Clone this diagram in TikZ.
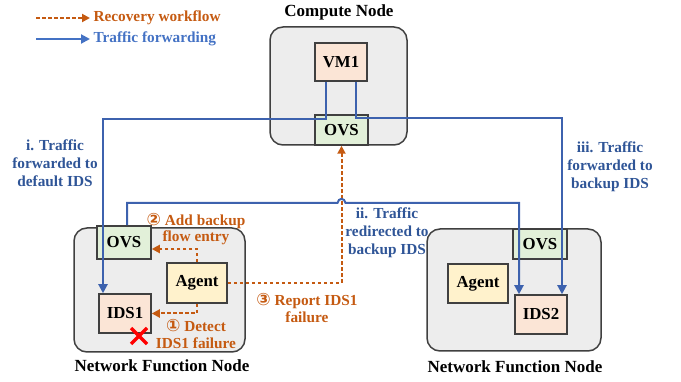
\documentclass[tikz,border=0pt]{standalone}
\usepackage{fontspec}
\setmainfont{Liberation Serif}
\newfontfamily\circfont{DejaVu Sans}
\usetikzlibrary{arrows.meta}

\definecolor{recorange}{HTML}{C55A11}
\definecolor{flowblue}{HTML}{3D62AE}
\definecolor{labelblue}{HTML}{2F5597}
\definecolor{legendblue}{HTML}{4472C4}
\definecolor{hostgray}{HTML}{EDEDED}
\definecolor{edgegray}{HTML}{404040}
\definecolor{vmfill}{HTML}{FBE5D6}
\definecolor{ovsfill}{HTML}{E2F0D9}
\definecolor{agentfill}{HTML}{FFF2CC}

\newcommand{\stepnum}[1]{{\circfont\bfseries\fontsize{17}{17}\selectfont #1}}

\begin{document}
\begin{tikzpicture}[x=1pt,y=-1pt,
        hostbox/.style={draw=edgegray, fill=hostgray, line width=1.5pt, rounded corners=13pt},
        unitbox/.style={draw=edgegray, line width=1.5pt, font=\fontsize{16.8}{18}\selectfont\bfseries},
        flowline/.style={draw=flowblue, line width=2pt, -{Triangle[length=9pt,width=9pt]}},
        recline/.style={draw=recorange, line width=2pt, dash pattern=on 3.5pt off 2.5pt, -{Triangle[length=8pt,width=8pt]}},
        bluetext/.style={text=labelblue, align=center, font=\fontsize{15.3}{18}\selectfont\bfseries},
        orangetext/.style={text=recorange, align=center, font=\fontsize{15.3}{16.5}\selectfont\bfseries},
        hosttitle/.style={font=\fontsize{17}{18}\selectfont\bfseries}]

        \useasboundingbox (0,0) rectangle (681,382);

        \node [hostbox, minimum width=137, minimum height=118] (compute) at (338.5,86) {};
        \node [hostbox, minimum width=171, minimum height=124] (nfleft) at (159.5,290) {};
        \node [hostbox, minimum width=174, minimum height=122] (nfright) at (514,290) {};

        \node [hosttitle] at (339,12) {Compute Node};
        \node [hosttitle] at (162,366) {Network Function Node};
        \node [hosttitle] at (515,367) {Network Function Node};

        \node [unitbox, fill=vmfill, minimum width=52, minimum height=38] (vm) at (341,62) {VM1};
        \node [unitbox, fill=ovsfill, minimum width=53, minimum height=30] (ovsc) at (341.5,130) {OVS};

        \node [unitbox, fill=ovsfill, minimum width=54, minimum height=33] (ovs1) at (124,242.5) {OVS};
        \node [unitbox, fill=agentfill, minimum width=60, minimum height=40] (agent1) at (197,283) {Agent};
        \node [unitbox, fill=vmfill, minimum width=52, minimum height=39] (ids1) at (125,313.5) {IDS1};

        \node [unitbox, fill=ovsfill, minimum width=54, minimum height=30] (ovs2) at (540,244) {OVS};
        \node [unitbox, fill=agentfill, minimum width=60, minimum height=39] (agent2) at (478,283.5) {Agent};
        \node [unitbox, fill=vmfill, minimum width=52, minimum height=39] (ids2) at (541,314.5) {IDS2};

        \draw [recline] (agent1.north) |- ([yshift=-6.5pt]ovs1.east);
        \draw [recline] (agent1.south) |- (ids1.east);
        \draw [recline] (agent1.east) -| (ovsc.south);

        \draw [flowline] ([xshift=-15pt]vm.south) -- ++(0,37) -| ([xshift=-22pt]ids1.north);
        \draw [flowline] ([xshift=15pt]vm.south) -- ++(0,36) -| ([xshift=21pt]ids2.north);
        \coordinate (hopleft) at (337.5,203);
        \coordinate (hopright) at (345.5,203);
        \draw [flowline] ([xshift=3pt]ovs1.north) |- (hopleft) .. controls (338.5,197.5) and (344.5,197.5) .. (hopright) -| ([xshift=-22pt]ids2.north);

        \draw [red, line width=3.5pt] (131,328) -- (147,344);
        \draw [red, line width=3.5pt] (131,344) -- (147,328);

        \node [bluetext] (labeli) at (55,163) {i. Traffic\\forwarded to\\default IDS};
        \node [bluetext] (labelii) at (387,233) {ii. Traffic\\redirected to\\backup IDS};
        \node [bluetext] (labeliii) at (610,167) {iii. Traffic\\forwarded to\\backup IDS};

        \node [orangetext] (steptwo) at (196,229) {\stepnum{②} Add backup\\flow entry};
        \node [orangetext] (stepone) at (196,334) {\stepnum{①} Detect\\IDS1 failure};
        \node [orangetext] (stepthree) at (307,308) {\stepnum{③} Report IDS1\\failure};

        \node [anchor=west, text=recorange, font=\fontsize{15.3}{17}\selectfont\bfseries] (legrec) at (90,18) {Recovery workflow};
        \node [anchor=west, text=legendblue, font=\fontsize{15.3}{17}\selectfont\bfseries] (legflow) at (90,39) {Traffic forwarding};
        \coordinate (legrecstart) at (36,18);
        \coordinate (legflowstart) at (36,39);
        \draw [recline] (legrecstart) -- (legrec.west);
        \draw [flowline, draw=legendblue] (legflowstart) -- (legflow.west);
    \end{tikzpicture}
\end{document}
